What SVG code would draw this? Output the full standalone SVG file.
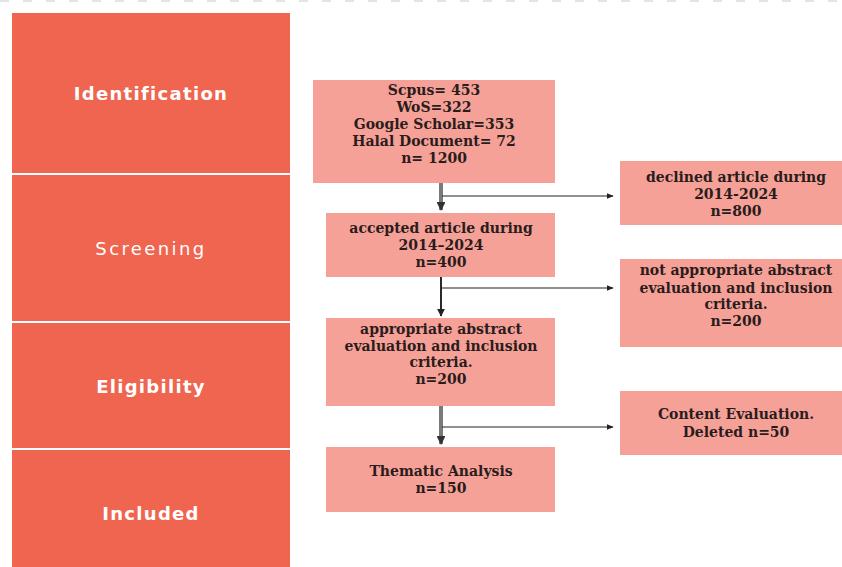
<svg xmlns="http://www.w3.org/2000/svg" width="842" height="567" viewBox="0 0 842 567">
  <defs>
    <marker id="arrow" viewBox="0 0 10 10" refX="9" refY="5" markerWidth="7" markerHeight="7" markerUnits="userSpaceOnUse" orient="auto">
      <path d="M0,1 L10,5 L0,9 z" fill="#222"/>
    </marker>
    <marker id="arrowDown" viewBox="0 0 10 10" refX="9" refY="5" markerWidth="2.2" markerHeight="2.2" orient="auto">
      <path d="M0,0 L10,5 L0,10 z" fill="#333"/>
    </marker>
    <marker id="arrowDownThin" viewBox="0 0 10 10" refX="9" refY="5" markerWidth="4" markerHeight="4" orient="auto">
      <path d="M0,0 L10,5 L0,10 z" fill="#222"/>
    </marker>
  </defs>
  <style>
    .stage { fill: #EF6550; }
    .stage-label { fill: #ffffff; font-family: "DejaVu Sans", "Liberation Sans", sans-serif; font-size: 18px; font-weight: bold; text-anchor: middle; letter-spacing: 1.3px; }
    .stage-label.light { font-weight: normal; letter-spacing: 2.4px; }
    .box { fill: #F5A197; }
    .box-text { fill: #2a1c1c; font-family: "DejaVu Serif", "Liberation Serif", serif; font-size: 14px; font-weight: bold; text-anchor: middle; }
    .flow-main { stroke: #7a7a7a; stroke-width: 4; fill: none; }
    .flow-dark { stroke: #2a2a2a; stroke-width: 2; fill: none; }
    .flow-side { stroke: #222; stroke-width: 1.2; fill: none; }
  </style>

  <rect width="842" height="567" fill="#ffffff"/>
  <!-- faint dashed rule along the top edge -->
  <line x1="0" y1="1" x2="842" y2="1" stroke="#e4e4e4" stroke-width="2" stroke-dasharray="9 14"/>

  <!-- stage column -->
  <g id="stage-identification">
    <rect class="stage" x="12" y="13" width="278" height="160"/>
    <text class="stage-label" x="151" y="100">Identification</text>
  </g>
  <g id="stage-screening">
    <rect class="stage" x="12" y="175" width="278" height="146"/>
    <text class="stage-label light" x="151" y="255">Screening</text>
  </g>
  <g id="stage-eligibility">
    <rect class="stage" x="12" y="323" width="278" height="125"/>
    <text class="stage-label" x="151" y="393">Eligibility</text>
  </g>
  <g id="stage-included">
    <rect class="stage" x="12" y="450" width="278" height="117"/>
    <text class="stage-label" x="151" y="520">Included</text>
  </g>

  <!-- main flow -->
  <g id="records">
    <rect class="box" x="313" y="80" width="242" height="103"/>
    <text class="box-text" x="434" y="95">Scpus= 453</text>
    <text class="box-text" x="434" y="112">WoS=322</text>
    <text class="box-text" x="434" y="129">Google Scholar=353</text>
    <text class="box-text" x="434" y="146">Halal Document= 72</text>
    <text class="box-text" x="434" y="163">n= 1200</text>
  </g>
  <g id="accepted">
    <rect class="box" x="326" y="213" width="229" height="64"/>
    <text class="box-text" x="441" y="233">accepted article during</text>
    <text class="box-text" x="441" y="250">2014–2024</text>
    <text class="box-text" x="441" y="267">n=400</text>
  </g>
  <g id="appropriate">
    <rect class="box" x="326" y="318" width="229" height="88"/>
    <text class="box-text" x="441" y="334">appropriate abstract</text>
    <text class="box-text" x="441" y="351">evaluation and inclusion</text>
    <text class="box-text" x="441" y="367">criteria.</text>
    <text class="box-text" x="441" y="384">n=200</text>
  </g>
  <g id="thematic">
    <rect class="box" x="326" y="447" width="229" height="65"/>
    <text class="box-text" x="441" y="476">Thematic Analysis</text>
    <text class="box-text" x="441" y="493">n=150</text>
  </g>

  <!-- excluded records -->
  <g id="declined">
    <rect class="box" x="620" y="161" width="230" height="64"/>
    <text class="box-text" x="736" y="182">declined article during</text>
    <text class="box-text" x="736" y="199">2014-2024</text>
    <text class="box-text" x="736" y="216">n=800</text>
  </g>
  <g id="not-appropriate">
    <rect class="box" x="620" y="259" width="230" height="88"/>
    <text class="box-text" x="736" y="275">not appropriate abstract</text>
    <text class="box-text" x="736" y="293">evaluation and inclusion</text>
    <text class="box-text" x="736" y="309">criteria.</text>
    <text class="box-text" x="736" y="326">n=200</text>
  </g>
  <g id="content-evaluation">
    <rect class="box" x="620" y="391" width="230" height="64"/>
    <text class="box-text" x="736" y="419">Content Evaluation.</text>
    <text class="box-text" x="736" y="437">Deleted n=50</text>
  </g>

  <!-- connectors -->
  <g id="connectors">
    <line class="flow-main" x1="441" y1="183" x2="441" y2="210" marker-end="url(#arrowDown)"/>
    <line class="flow-side" x1="442" y1="196" x2="613" y2="196" marker-end="url(#arrow)"/>
    <line class="flow-dark" x1="441" y1="277" x2="441" y2="316" marker-end="url(#arrowDownThin)"/>
    <line class="flow-side" x1="442" y1="288" x2="613" y2="288" marker-end="url(#arrow)"/>
    <line class="flow-main" x1="441" y1="406" x2="441" y2="444" marker-end="url(#arrowDown)"/>
    <line class="flow-side" x1="442" y1="427" x2="613" y2="427" marker-end="url(#arrow)"/>
  </g>
</svg>
